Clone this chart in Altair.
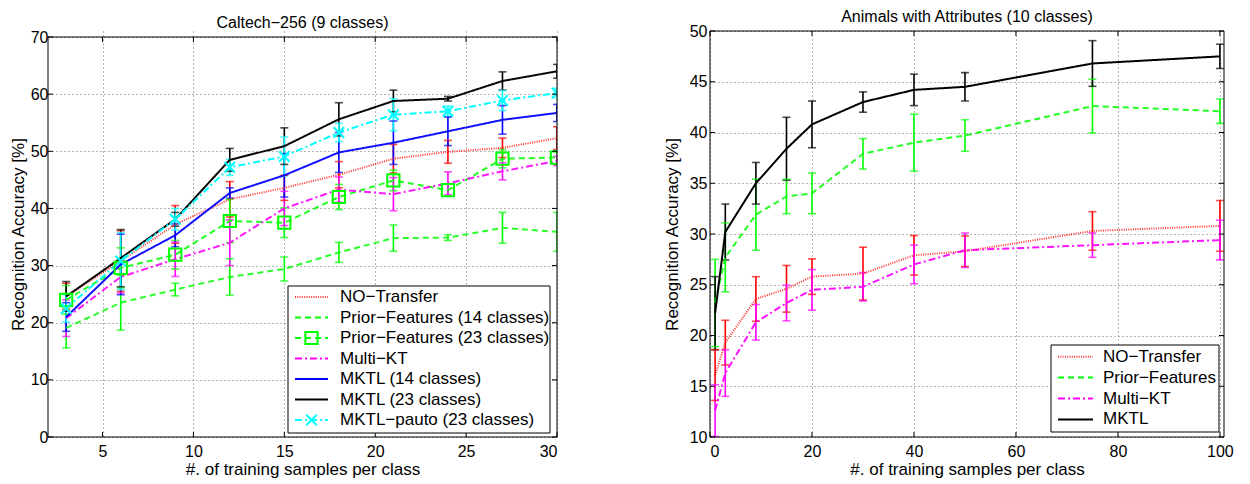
import altair as alt
import pandas as pd

FONT = "Liberation Sans"

# ---------------- Caltech-256 (9 classes) ----------------
c_x = [3, 6, 9, 12, 15, 18, 21, 24, 27, 30]
c_names = ["NO−Transfer", "Prior−Features (14 classes)", "Prior−Features (23 classes)",
           "Multi−KT", "MKTL (14 classes)", "MKTL (23 classes)", "MKTL−pauto (23 classes)"]
c_no_transfer = [24.6, 30.8, 37.2, 41.6, 43.6, 45.9, 48.7, 49.9, 50.6, 52.3]
c_no_transfer_err = [2.3, 5.3, 3.3, 3.1, 2.2, 2.3, 2.5, 2.0, 1.7, 2.0]
c_prior14 = [19.1, 23.5, 25.8, 28.0, 29.4, 32.3, 34.8, 34.9, 36.6, 35.9]
c_prior14_err = [3.5, 4.8, 1.1, 3.2, 2.1, 1.75, 2.3, 0.5, 2.7, 3.4]
c_prior23 = [24.0, 29.6, 31.9, 37.8, 37.5, 42.0, 44.9, 43.2, 48.7, 48.9]
c_prior23_err = [2.5, 3.5, 2.5, 3.8, 2.6, 2.2, 1.8, 1.1, 1.6, 1.2]
c_multikt = [20.8, 28.0, 31.1, 34.0, 40.0, 43.3, 42.5, 44.4, 46.5, 48.3]
c_multikt_err = [3.2, 2.8, 3.0, 4.0, 3.0, 2.2, 2.9, 2.0, 1.5, 0.8]
c_mktl14 = [21.0, 30.2, 35.3, 42.7, 45.8, 49.8, 51.5, 53.5, 55.5, 56.7]
c_mktl14_err = [2.5, 5.3, 2.0, 0.9, 3.8, 3.5, 3.8, 2.5, 2.5, 1.5]
c_mktl23 = [24.6, 31.3, 38.1, 48.5, 50.9, 55.6, 58.8, 59.2, 62.3, 64.0]
c_mktl23_err = [2.6, 5.0, 1.2, 2.0, 3.2, 2.9, 1.9, 0.4, 1.6, 1.2]
c_pauto = [22.5, 30.8, 38.1, 47.2, 49.1, 53.3, 56.4, 57.0, 58.9, 60.2]
c_pauto_err = [2.4, 5.0, 1.9, 1.4, 3.4, 1.6, 2.8, 0.9, 1.75, 0.8]
c_xticks = [5, 10, 15, 20, 25, 30]
c_yticks = [0, 10, 20, 30, 40, 50, 60, 70]

# ---------------- Animals with Attributes (10 classes) ----------------
a_x = [1, 3, 9, 15, 20, 30, 40, 50, 75, 100]
a_names = ["NO−Transfer", "Prior−Features", "Multi−KT", "MKTL"]
a_no_transfer = [16.1, 19.3, 23.6, 24.6, 25.8, 26.1, 27.9, 28.3, 30.3, 30.8]
a_no_transfer_err = [2.5, 2.2, 2.2, 2.3, 1.75, 2.6, 1.95, 1.5, 1.9, 2.5]
a_prior = [23.2, 27.7, 31.9, 33.7, 34.0, 37.9, 39.0, 39.7, 42.6, 42.1]
a_prior_err = [4.3, 3.4, 3.5, 1.7, 2.0, 1.5, 2.8, 1.55, 2.65, 1.2]
a_multikt = [12.6, 16.3, 21.3, 23.2, 24.5, 24.8, 27.0, 28.4, 28.9, 29.4]
a_multikt_err = [2.55, 2.3, 1.75, 1.75, 2.0, 1.4, 1.9, 1.7, 1.2, 1.95]
a_mktl = [22.2, 30.2, 35.0, 38.4, 40.8, 43.0, 44.2, 44.5, 46.8, 47.5]
a_mktl_err = [3.6, 2.75, 2.05, 3.1, 2.3, 1.0, 1.55, 1.4, 2.25, 1.2]
a_xticks = [0, 20, 40, 60, 80, 100]
a_yticks = [10, 15, 20, 25, 30, 35, 40, 45, 50]

RED, GREEN, MAG, BLUE, BLACK, CYAN = "#ff0000", "#00ff00", "#ff00ff", "#0000ff", "#000000", "#00ffff"
DOT, DASH, DASHDOT, SOLID = [1, 1.3], [6, 4], [7, 3, 2, 3], [1, 0]
XMARK = "M-1,-1L1,1M-1,1L1,-1"

c_colors = [RED, GREEN, GREEN, MAG, BLUE, BLACK, CYAN]
c_dashes = [DOT, DASH, DASH, DASHDOT, SOLID, SOLID, DASHDOT]
c_opac = [0.8, 1, 1, 1, 1, 1, 1]
c_markers = [None, None, "square", None, None, None, XMARK]

a_colors = [RED, GREEN, MAG, BLACK]
a_dashes = [DOT, DASH, DASHDOT, SOLID]
a_opac = [0.8, 1, 1, 1]
a_markers = [None, None, None, None]

TICK_FS, TITLE_FS, LEG_FS, HEAD_FS = 16, 17, 17, 16


def long_df(xs, names, means, errs):
    rows = []
    for name, m, e in zip(names, means, errs):
        for x, v, d in zip(xs, m, e):
            rows.append({"series": name, "x": x, "y": v, "lo": v - d, "hi": v + d})
    return pd.DataFrame(rows)


def panel(df, names, colors, dashes, opac, markers, xdom, xvals, ydom, yframe, yvals,
          width, height, title, y_label_pad, y_title_pad, leg):
    ytitle = "Recognition Accuracy [%]"
    xtitle = "#. of training samples per class"
    xaxis = alt.Axis(values=xvals, title=xtitle, labelPadding=6, titlePadding=2)
    yaxis = alt.Axis(values=yvals, title=ytitle, labelPadding=y_label_pad, titlePadding=y_title_pad)
    xs = alt.Scale(domain=xdom, nice=False, zero=False)
    ys = alt.Scale(domain=ydom, nice=False, zero=False)
    X = alt.X("x:Q", scale=xs, axis=xaxis)
    color = alt.Color("series:N", scale=alt.Scale(domain=names, range=colors), legend=None)

    base = alt.Chart(df)
    bars = base.mark_rule(strokeWidth=1.6, clip=True).encode(
        x=X, y=alt.Y("lo:Q", scale=ys, axis=yaxis), y2="hi:Q", color=color)
    cap_lo = base.mark_tick(orient="horizontal", size=8, thickness=1.6, clip=True).encode(
        x=X, y=alt.Y("lo:Q", scale=ys, axis=yaxis), color=color)
    cap_hi = base.mark_tick(orient="horizontal", size=8, thickness=1.6, clip=True).encode(
        x=X, y=alt.Y("hi:Q", scale=ys, axis=yaxis), color=color)
    lines = base.mark_line(strokeWidth=2, clip=True).encode(
        x=X, y=alt.Y("y:Q", scale=ys, axis=yaxis), color=color,
        strokeDash=alt.StrokeDash("series:N", scale=alt.Scale(domain=names, range=dashes), legend=None),
        opacity=alt.Opacity("series:N", scale=alt.Scale(domain=names, range=opac), legend=None))
    layers = [bars, cap_lo, cap_hi, lines]
    for name, col, mk in zip(names, colors, markers):
        if mk is None:
            continue
        size = 150 if mk == "square" else 110
        layers.append(alt.Chart(df[df.series == name]).mark_point(
            shape=mk, filled=False, size=size, strokeWidth=2, color=col, opacity=1, clip=True
        ).encode(x=X, y=alt.Y("y:Q", scale=ys, axis=yaxis)))

    # axes frame (box) drawn through the scales
    layers.append(alt.Chart(pd.DataFrame({"a": [0]})).mark_rect(
        fillOpacity=0, stroke="black", strokeWidth=1).encode(
        x=alt.datum(xdom[0]), x2=alt.datum(xdom[1]),
        y=alt.datum(yframe[0]), y2=alt.datum(yframe[1])))

    # inward tick marks on all four sides (Matlab style)
    xt = pd.DataFrame({"t": xvals})
    yt = pd.DataFrame({"t": yvals})
    TX = alt.X("t:Q", scale=xs, axis=xaxis)
    TY = alt.Y("t:Q", scale=ys, axis=yaxis)
    for yv, off in ((yframe[0], -5), (yframe[1], 5)):
        layers.append(alt.Chart(xt).mark_rule(color="black", strokeWidth=1, y2Offset=off).encode(
            x=TX, y=alt.datum(yv), y2=alt.datum(yv)))
    for xv, off in ((xdom[0], 5), (xdom[1], -5)):
        layers.append(alt.Chart(yt).mark_rule(color="black", strokeWidth=1, x2Offset=off).encode(
            y=TY, x=alt.datum(xv), x2=alt.datum(xv)))

    # legend (drawn in plot pixel space)
    bx0, bx1, by0, by1, row0, step, sx0, sx1, tx = leg
    layers.append(alt.Chart(pd.DataFrame({"a": [0]})).mark_rect(
        fill="white", stroke="black", strokeWidth=1).encode(
        x=alt.value(bx0), x2=alt.value(bx1), y=alt.value(by0), y2=alt.value(by1)))
    for i, (name, col, dash, op, mk) in enumerate(zip(names, colors, dashes, opac, markers)):
        yy = row0 + i * step
        one = pd.DataFrame({"label": [name]})
        layers.append(alt.Chart(one).mark_rule(color=col, strokeDash=dash, strokeWidth=2, opacity=op).encode(
            x=alt.value(sx0), x2=alt.value(sx1), y=alt.value(yy)))
        if mk is not None:
            size = 150 if mk == "square" else 110
            layers.append(alt.Chart(one).mark_point(shape=mk, filled=False, size=size, strokeWidth=2,
                                                     color=col, opacity=1).encode(
                x=alt.value((sx0 + sx1) / 2), y=alt.value(yy)))
        layers.append(alt.Chart(one).mark_text(align="left", baseline="middle", fontSize=LEG_FS, font=FONT,
                                               color="black").encode(
            x=alt.value(tx), y=alt.value(yy), text="label:N"))

    return alt.layer(*layers).properties(
        width=width, height=height,
        view=alt.ViewBackground(stroke="transparent"),
        title=alt.TitleParams(title, fontSize=HEAD_FS, font=FONT, fontWeight="normal", color="black",
                              frame="group", offset=-2))


c_df = long_df(c_x, c_names,
               [c_no_transfer, c_prior14, c_prior23, c_multikt, c_mktl14, c_mktl23, c_pauto],
               [c_no_transfer_err, c_prior14_err, c_prior23_err, c_multikt_err, c_mktl14_err,
                c_mktl23_err, c_pauto_err])
a_df = long_df(a_x, a_names, [a_no_transfer, a_prior, a_multikt, a_mktl],
               [a_no_transfer_err, a_prior_err, a_multikt_err, a_mktl_err])

# left panel: plot box 400 px tall sitting 6 px below the right one (same 406 px layout height)
left = panel(c_df, c_names, c_colors, c_dashes, c_opac, c_markers, [2, 30], c_xticks,
             [0, 70 * 406 / 400], [0, 70], c_yticks,
             509, 406, "Caltech−256 (9 classes)", 0, 3,
             (240, 502, 255, 402, 266, 20.5, 247, 280, 292))
right = panel(a_df, a_names, a_colors, a_dashes, a_opac, a_markers, [0, 100.8], a_xticks,
              [10, 50], [10, 50], a_yticks,
              514, 406, "Animals with Attributes (10 classes)", 3, 8,
              (341, 509, 314, 401, 325.7, 20.9, 348, 383, 393))

chart = alt.hconcat(left, right, spacing=104).resolve_scale(
    color="independent", strokeDash="independent", opacity="independent"
).properties(
    padding=0, background="white"
).configure_axis(
    labelFont=FONT, titleFont=FONT, labelFontSize=TICK_FS, titleFontSize=TITLE_FS,
    labelColor="black", titleColor="black", titleFontWeight="normal",
    grid=True, gridDash=[1, 3], gridColor="#6a6a6a", gridWidth=1,
    ticks=False, tickSize=0, domain=False
)

chart.save("out.html", embed_options={"renderer": "svg", "actions": False})
